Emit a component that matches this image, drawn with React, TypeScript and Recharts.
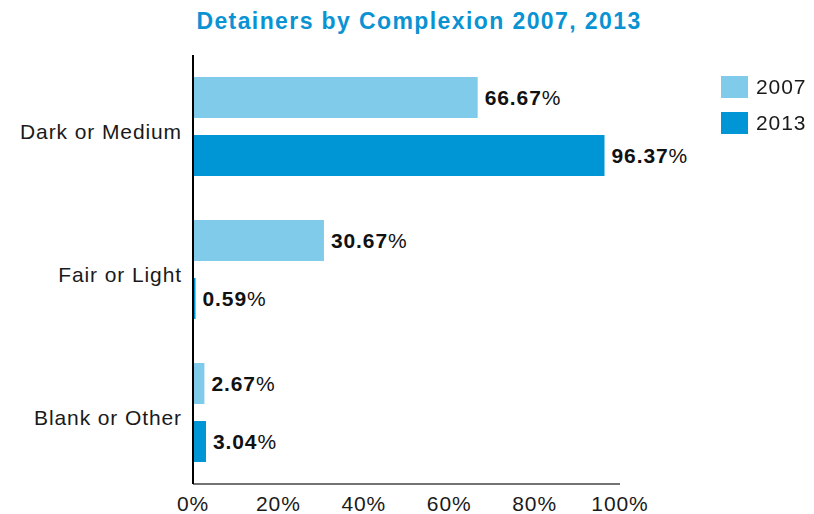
import React from "react";
import {
  BarChart,
  Bar,
  XAxis,
  YAxis,
  Legend,
  LabelList,
} from "recharts";

const CATEGORIES = ["Dark or Medium", "Fair or Light", "Blank or Other"];
const VALUES_2007 = [66.67, 30.67, 2.67];
const VALUES_2013 = [96.37, 0.59, 3.04];
const X_TICKS = [0, 20, 40, 60, 80, 100];

const LIGHT = "#80cbea";
const DARK = "#0096d6";
const TITLE_BLUE = "#0a93d3";
const FONT = "'Liberation Sans', Arial, sans-serif";

const data = CATEGORIES.map((name, i) => ({
  name,
  y2007: VALUES_2007[i],
  y2013: VALUES_2013[i],
}));

const CategoryTick = (props: any) => {
  const { x, y, payload } = props;
  return (
    <text
      x={x - 3}
      y={y + 12}
      textAnchor="end"
      fontFamily={FONT}
      fontSize={21}
      letterSpacing={0.9}
      fill="#1a1a1a"
    >
      {payload.value}
    </text>
  );
};

const PercentTick = (props: any) => {
  const { x, y, payload } = props;
  return (
    <text
      x={x}
      y={y + 19}
      textAnchor="middle"
      fontFamily={FONT}
      fontSize={21}
      letterSpacing={0.9}
      fill="#1a1a1a"
    >
      {`${payload.value}%`}
    </text>
  );
};

const ValueLabel = (props: any) => {
  const { x, y, width, height, value } = props;
  return (
    <text
      x={x + width + 7}
      y={y + height / 2 + 7}
      fontFamily={FONT}
      fontSize={21}
      letterSpacing={0.9}
      fill="#111"
    >
      <tspan fontWeight="bold">{Number(value).toFixed(2)}</tspan>
      <tspan>%</tspan>
    </text>
  );
};

const LegendBox = () => (
  <div style={{ fontFamily: FONT, fontSize: 21, letterSpacing: 0.9, color: "#1a1a1a" }}>
    {[
      { label: "2007", color: LIGHT },
      { label: "2013", color: DARK },
    ].map((item) => (
      <div
        key={item.label}
        style={{ display: "flex", alignItems: "center", height: 22, marginBottom: 14 }}
      >
        <span
          style={{
            display: "inline-block",
            width: 27,
            height: 22,
            background: item.color,
            marginRight: 8,
          }}
        />
        <span>{item.label}</span>
      </div>
    ))}
  </div>
);

export default function App() {
  return (
    <div
      style={{
        position: "fixed",
        left: 0,
        top: 0,
        width: 814,
        height: 514,
        background: "#fff",
      }}
    >
      <div
        style={{
          position: "absolute",
          left: 0,
          width: 838,
          top: 8,
          textAlign: "center",
          fontFamily: FONT,
          fontWeight: "bold",
          fontSize: 23,
          letterSpacing: 1.4,
          color: TITLE_BLUE,
        }}
      >
        Detainers by Complexion 2007, 2013
      </div>
      <BarChart
        width={814}
        height={514}
        data={data}
        layout="vertical"
        margin={{ top: 55, right: 94, bottom: 0, left: 0 }}
        barCategoryGap={22}
        barGap={17}
      >
        <XAxis
          type="number"
          domain={[0, 100]}
          ticks={X_TICKS}
          height={30}
          tickLine={false}
          axisLine={{ stroke: "#444", strokeWidth: 1.5 }}
          tick={<PercentTick />}
          interval={0}
        />
        <YAxis
          type="category"
          dataKey="name"
          width={193}
          tickLine={false}
          axisLine={{ stroke: "#000", strokeWidth: 2 }}
          tick={<CategoryTick />}
        />
        <Legend
          layout="vertical"
          verticalAlign="top"
          align="right"
          content={<LegendBox />}
          wrapperStyle={{ position: "absolute", left: 721, top: 76, width: 100 }}
        />
        <Bar dataKey="y2007" name="2007" fill={LIGHT} barSize={41} isAnimationActive={false}>
          <LabelList dataKey="y2007" content={<ValueLabel />} />
        </Bar>
        <Bar dataKey="y2013" name="2013" fill={DARK} barSize={41} isAnimationActive={false}>
          <LabelList dataKey="y2013" content={<ValueLabel />} />
        </Bar>
      </BarChart>
    </div>
  );
}
